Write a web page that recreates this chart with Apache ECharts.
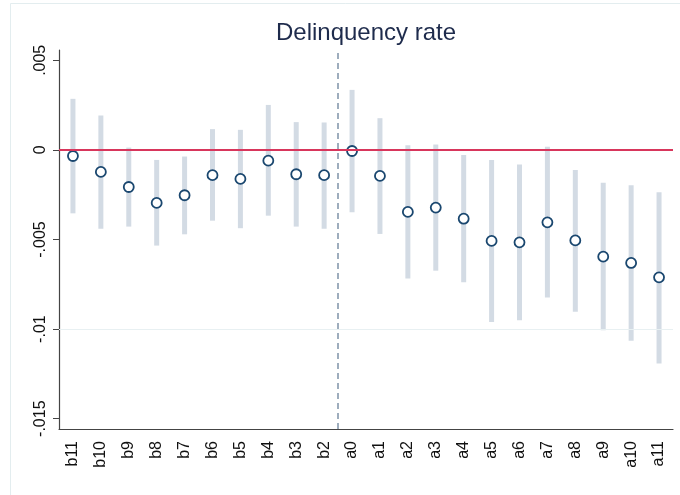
<!DOCTYPE html>
<html>
<head>
<meta charset="utf-8">
<script src="https://cdn.jsdelivr.net/npm/echarts@6/dist/echarts.min.js"></script>
<style>
html, body { margin: 0; padding: 0; background: #fff; }
#chart { width: 680px; height: 495px; }
</style>
</head>
<body>
<div id="chart"></div>
<script>
// event-time categories (b1 is the omitted period)
var categories = ['b11','b10','b9','b8','b7','b6','b5','b4','b3','b2','a0','a1','a2','a3','a4','a5','a6','a7','a8','a9','a10','a11'];
// point estimates
var estimates = [-0.00034, -0.00123, -0.00207, -0.00296, -0.00253, -0.00141, -0.00162, -0.00060, -0.00136, -0.00141,
  -0.00006, -0.00145, -0.00346, -0.00322, -0.00384, -0.00508, -0.00516, -0.00404, -0.00505, -0.00596, -0.00631, -0.00711];
// confidence interval bounds
var ciHigh = [0.00285, 0.00192, 0.00013, -0.00056, -0.00037, 0.00116, 0.00112, 0.00251, 0.00155, 0.00153,
  0.00335, 0.00177, 0.00026, 0.00030, -0.00028, -0.00056, -0.00082, 0.00017, -0.00112, -0.00184, -0.00197, -0.00236];
var ciLow = [-0.00354, -0.00440, -0.00428, -0.00534, -0.00471, -0.00395, -0.00437, -0.00367, -0.00428, -0.00440,
  -0.00348, -0.00469, -0.00717, -0.00674, -0.00739, -0.00961, -0.00950, -0.00823, -0.00903, -0.01007, -0.01065, -0.01192];
// y axis ticks
var yTickValues = [0.005, 0, -0.005, -0.01, -0.015];
var yTickLabels = ['.005', '0', '-.005', '-.01', '-.015'];
var gridValues = [0.005, -0.005, -0.01];
var eventLine = 9.5; // between b2 and a0

var font = '"Liberation Sans", Arial, sans-serif';
var chart = echarts.init(document.getElementById('chart'), null, { renderer: 'canvas' });

var ciData = categories.map(function (c, i) { return [i, ciLow[i], ciHigh[i]]; });
var pointData = categories.map(function (c, i) { return [i, estimates[i]]; });

var option = {
  animation: false,
  backgroundColor: '#fff',
  graphic: [
    {
      type: 'rect', silent: true, z: -10,
      shape: { x: 10.5, y: 3.5, width: 700, height: 520 },
      style: { fill: 'none', stroke: '#e3edef', lineWidth: 1 }
    },
    {
      type: 'text', silent: true,
      x: 366, y: 21,
      style: {
        text: 'Delinquency rate',
        font: '24px ' + font,
        fill: '#1e2b4c',
        textAlign: 'center',
        textVerticalAlign: 'top'
      }
    }
  ],
  grid: { left: 59, right: 7, top: 50, bottom: 66 },
  xAxis: [
    {
      type: 'category',
      data: categories,
      boundaryGap: true,
      axisLine: { onZero: false, lineStyle: { color: '#444', width: 1.2 } },
      axisTick: { alignWithLabel: true, length: 6, lineStyle: { color: '#444' } },
      axisLabel: { rotate: 90, margin: 12, fontSize: 16, color: '#111', fontFamily: font, interval: 0 },
      splitLine: { show: false }
    },
    {
      type: 'value',
      min: -0.5, max: categories.length - 0.5,
      show: false
    }
  ],
  yAxis: {
    type: 'value',
    min: -0.015575,
    max: 0.005575,
    axisLine: { show: true, onZero: false, lineStyle: { color: '#444', width: 1.2 } },
    axisTick: { show: true, length: 6, customValues: yTickValues, lineStyle: { color: '#444' } },
    axisLabel: {
      rotate: 90, margin: 10, fontSize: 16, color: '#111', fontFamily: font,
      customValues: yTickValues,
      formatter: function (v) {
        for (var i = 0; i < yTickValues.length; i++) {
          if (Math.abs(v - yTickValues[i]) < 1e-9) return yTickLabels[i];
        }
        return '';
      }
    },
    splitLine: { show: false }
  },
  series: [
    {
      // light gridlines
      type: 'line', data: [], z: 1, silent: true,
      markLine: {
        silent: true, symbol: ['none', 'none'], label: { show: false },
        lineStyle: { color: '#e8f0f2', width: 1.2, type: 'solid' },
        data: gridValues.map(function (v) { return { yAxis: v }; })
      }
    },
    {
      // confidence intervals
      type: 'custom', z: 2, silent: true,
      data: ciData,
      encode: { x: 0, y: [1, 2] },
      renderItem: function (params, api) {
        var x = api.value(0);
        var lo = api.coord([x, api.value(1)]);
        var hi = api.coord([x, api.value(2)]);
        return {
          type: 'rect',
          shape: { x: lo[0] - 2.5, y: hi[1], width: 5, height: lo[1] - hi[1] },
          style: { fill: '#d3dbe4' }
        };
      }
    },
    {
      // zero line
      type: 'line', data: [], z: 3, silent: true,
      markLine: {
        silent: true, symbol: ['none', 'none'], label: { show: false },
        lineStyle: { color: '#d8365c', width: 1.8, type: 'solid' },
        data: [{ yAxis: 0 }]
      }
    },
    {
      // event line
      type: 'line', data: [], xAxisIndex: 1, z: 3, silent: true,
      markLine: {
        silent: true, symbol: ['none', 'none'], label: { show: false },
        lineStyle: { color: '#7f93a8', width: 1.5, type: [6, 4] },
        data: [{ xAxis: eventLine }]
      }
    },
    {
      // point estimates
      type: 'scatter', z: 4, silent: true,
      data: pointData,
      symbol: 'circle',
      symbolSize: 10,
      itemStyle: { color: '#fff', borderColor: '#1a476f', borderWidth: 1.8, opacity: 1 }
    }
  ]
};
chart.setOption(option);
</script>
</body>
</html>
